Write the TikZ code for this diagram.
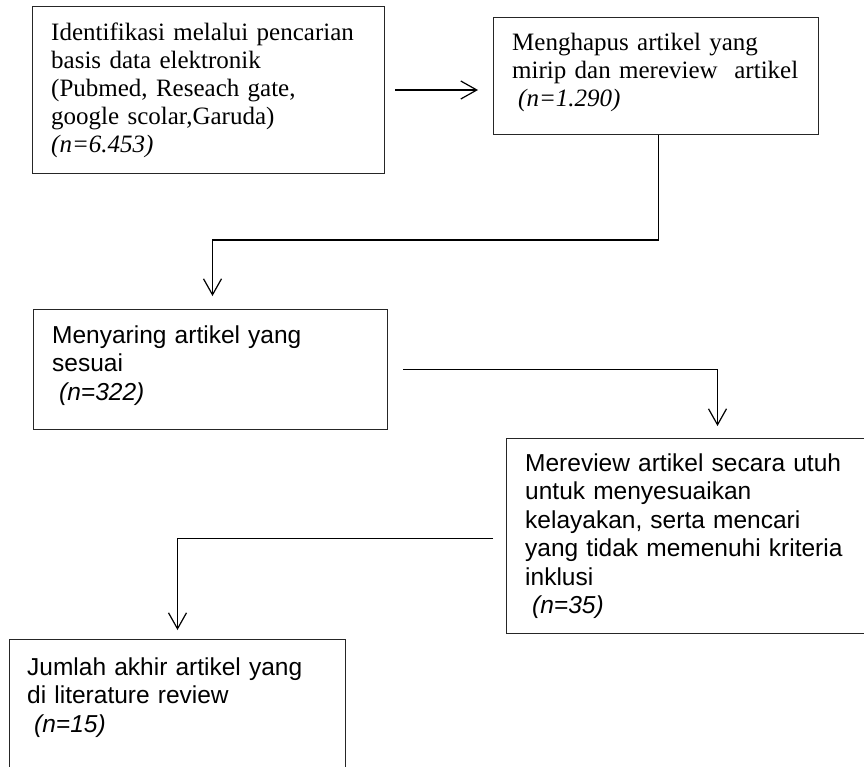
\documentclass[tikz,border=0pt]{standalone}
\usepackage{fontspec}
\setmainfont{Liberation Serif}
\newfontfamily\arialf{Liberation Sans}
\usetikzlibrary{arrows.meta}
\begin{document}
\begin{tikzpicture}[x=1pt,y=-1pt,
  box/.style={draw=black!85, line width=1pt, anchor=north west, inner sep=0pt},
  serift/.style={anchor=north west, inner sep=0pt, align=left, text width=330pt, font=\fontsize{25}{28}\selectfont},
  sanst/.style={anchor=north west, inner sep=0pt, align=left, text width=335pt, font=\arialf\fontsize{24.5}{28.5}\selectfont},
  arr/.style={line width=1.5pt, -{Straight Barb[length=16pt,width=18pt,line width=1.2pt]}}]
\useasboundingbox (0,0) rectangle (864,766);
% boxes
\node[box, minimum width=352pt, minimum height=167pt] (b1) at (32,6) {};
\node[box, minimum width=325pt, minimum height=117pt] (b2) at (493,17) {};
\node[box, minimum width=354pt, minimum height=120pt] (b3) at (33,309) {};
\node[box, minimum width=362pt, minimum height=195pt] (b4) at (506,438) {};
\node[box, minimum width=336pt, minimum height=132pt] (b5) at (9,639) {};
% texts
\node[serift] (t1) at (51,20.4) {\strut Identifikasi melalui pencarian\\ basis data elektronik\\ (Pubmed, Reseach gate,\\ google scolar,Garuda)\\ \textit{(n=6.453)}\par};
\node[serift, text width=300pt] (t2) at (512,30.4) {\strut Menghapus artikel yang\\ mirip dan mereview\ \ artikel\\ \hspace*{6pt}\textit{(n=1.290)}\par};
\node[sanst, text width=320pt] (t3) at (52,323) {\strut Menyaring artikel yang\\ sesuai\\ \hspace*{7pt}\textit{(n=322)}\par};
\node[sanst] (t4) at (525,451) {\strut Mereview artikel secara utuh\\ untuk menyesuaikan\\ kelayakan, serta mencari\\ yang tidak memenuhi kriteria\\ inklusi\\ \hspace*{7pt}\textit{(n=35)}\par};
\node[sanst, text width=310pt] (t5) at (27,655) {\strut Jumlah akhir artikel yang\\ di literature review\\ \hspace*{7pt}\textit{(n=15)}\par};
% connectors
\draw[arr, shorten <=10pt, shorten >=15pt] (b1.east) -- (b1.east -| b2.west);
\draw[arr, shorten >=13pt] ([xshift=2.5pt]b2.south) -- ++(0,105) -| ([xshift=2pt]b3.north);
\draw[arr, shorten <=15pt, shorten >=12pt] (b3.east) -| ([xshift=30pt]b4.north);
\draw[arr, shorten <=13pt, shorten >=9pt] ([yshift=-2.5pt]b4.west) -| (b5.north);
\end{tikzpicture}
\end{document}
